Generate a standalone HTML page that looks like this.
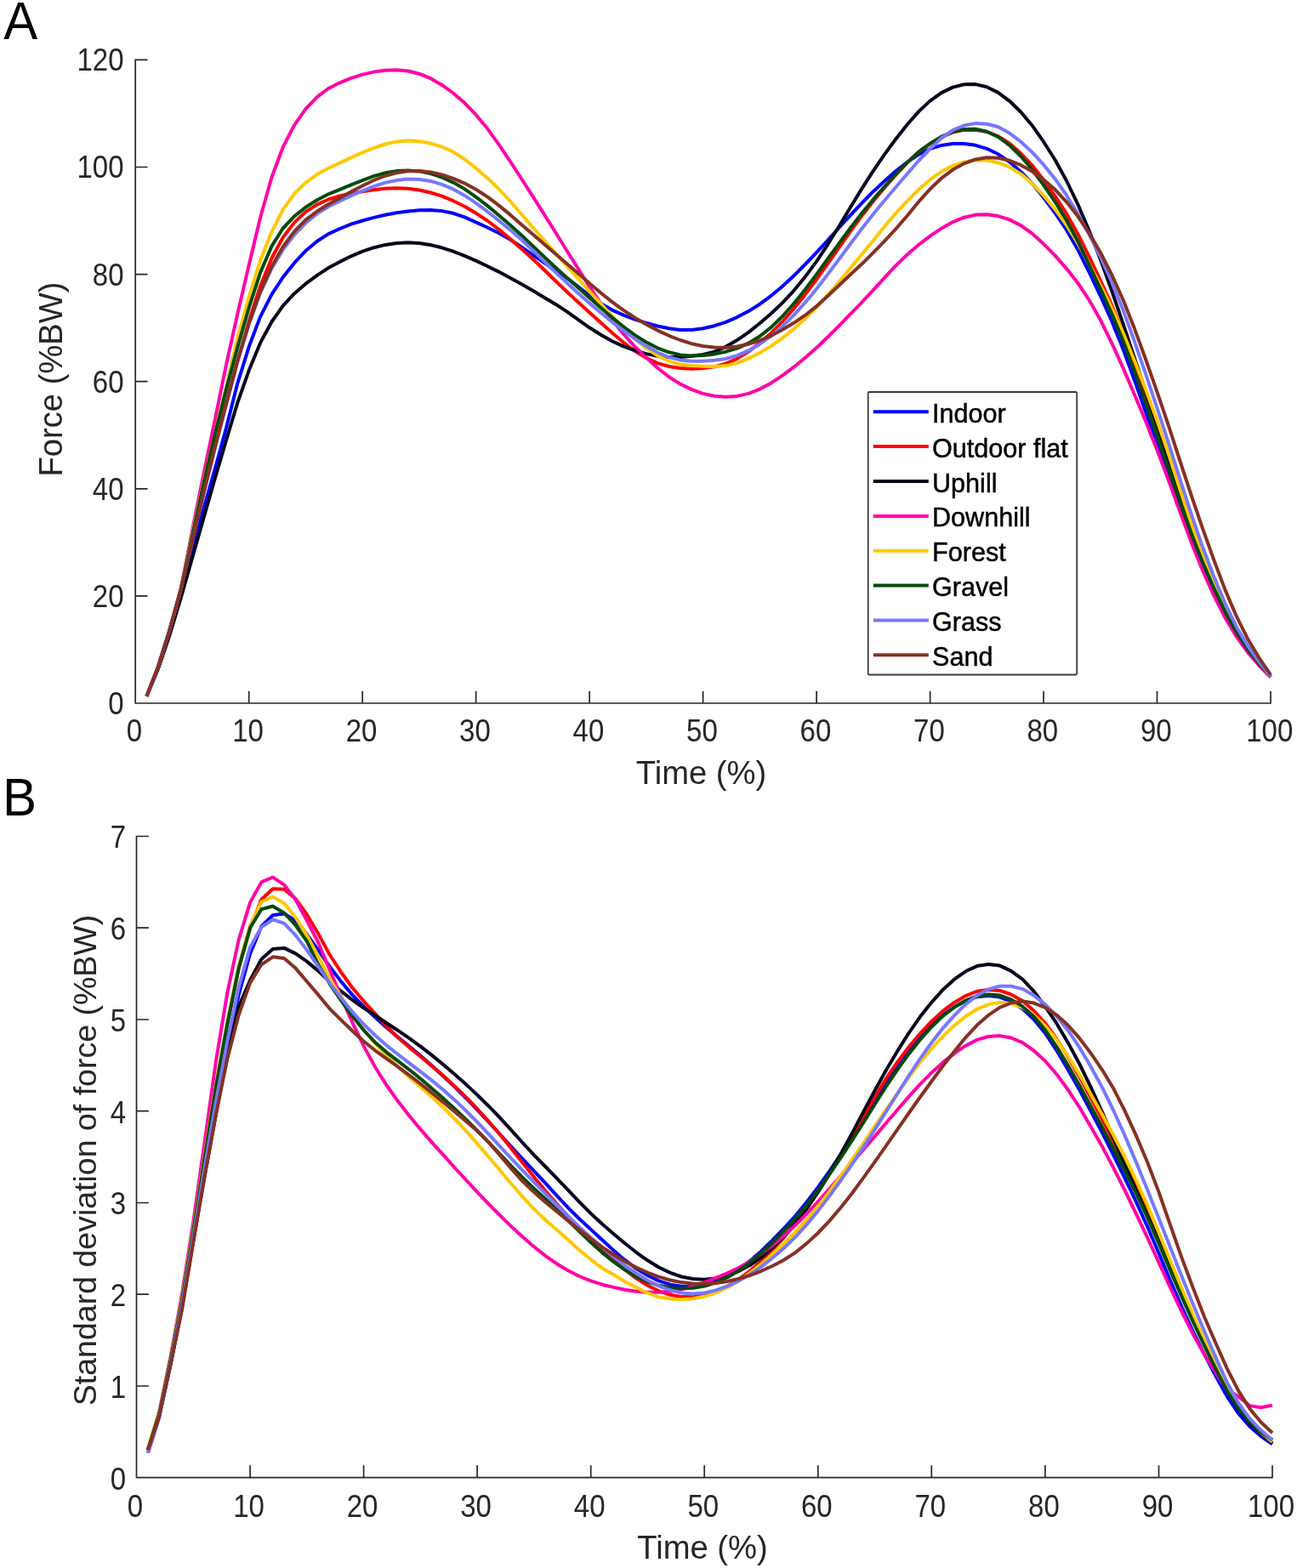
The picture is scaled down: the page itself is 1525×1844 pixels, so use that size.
<!DOCTYPE html>
<html lang="en">
<head>
<meta charset="utf-8">
<title>Force and standard deviation of force over time</title>
<style>
html,body{margin:0;padding:0;background:#fff;}
body{width:1525px;height:1844px;overflow:hidden;}
svg{display:block;font-family:"Liberation Sans",sans-serif;}
</style>
</head>
<body>
<svg width="1525" height="1844" viewBox="0 0 1525 1844">
<rect width="1525" height="1844" fill="#fff"/>
<g id="panel-a">
<g fill="none" stroke-width="4.0" stroke-linejoin="round" stroke-linecap="butt">
<path stroke="#0000ff" d="M172.5,818.8 L185.9,786.0 L199.2,745.7 L212.6,699.6 L225.9,647.3 L239.3,598.5 L252.6,552.1 L266.0,503.3 L279.3,450.8 L292.7,407.8 L306.0,372.6 L319.4,346.3 L332.7,326.0 L346.1,309.2 L359.4,295.0 L372.8,283.7 L386.1,275.1 L399.5,269.0 L412.8,263.7 L426.2,259.5 L439.5,255.9 L452.9,252.7 L466.2,250.3 L479.6,248.4 L492.9,247.3 L506.2,247.0 L519.6,248.1 L532.9,250.8 L546.3,255.4 L559.6,261.3 L573.0,267.5 L586.3,274.0 L599.7,281.6 L613.0,290.3 L626.4,299.6 L639.7,308.8 L653.1,317.5 L666.4,326.8 L679.8,337.1 L693.1,347.6 L706.5,357.0 L719.8,364.6 L733.2,370.6 L746.5,375.6 L759.9,379.8 L773.2,383.5 L786.6,386.3 L799.9,387.9 L813.3,387.9 L826.6,386.2 L839.9,383.2 L853.3,378.8 L866.6,373.1 L880.0,366.1 L893.3,357.7 L906.7,347.8 L920.0,336.7 L933.4,324.3 L946.7,311.0 L960.1,296.9 L973.4,282.3 L986.8,267.5 L1000.1,252.9 L1013.5,238.7 L1026.8,225.2 L1040.2,212.7 L1053.5,201.1 L1066.9,190.7 L1080.2,181.7 L1093.6,175.1 L1106.9,170.9 L1120.3,168.9 L1133.6,168.9 L1147.0,170.8 L1160.3,174.8 L1173.6,181.3 L1187.0,190.4 L1200.3,201.9 L1213.7,215.8 L1227.0,232.3 L1240.4,250.2 L1253.7,270.0 L1267.1,293.2 L1280.4,319.6 L1293.8,347.8 L1307.1,377.5 L1320.5,410.6 L1333.8,446.9 L1347.2,484.8 L1360.5,522.7 L1373.9,560.9 L1387.2,599.2 L1400.6,635.4 L1413.9,668.2 L1427.3,697.9 L1440.6,724.4 L1454.0,747.1 L1467.3,765.9 L1480.7,781.6 L1494.0,795.5"/>
<path stroke="#ff0000" d="M172.5,818.8 L185.9,784.1 L199.2,741.9 L212.6,693.3 L225.9,636.6 L239.3,579.7 L252.6,525.0 L266.0,473.3 L279.3,424.5 L292.7,377.9 L306.0,336.7 L319.4,303.7 L332.7,279.3 L346.1,261.6 L359.4,249.1 L372.8,240.6 L386.1,234.5 L399.5,230.5 L412.8,227.4 L426.2,225.2 L439.5,223.3 L452.9,221.8 L466.2,221.3 L479.6,221.8 L492.9,223.5 L506.2,226.5 L519.6,230.7 L532.9,236.2 L546.3,242.8 L559.6,250.7 L573.0,259.5 L586.3,269.6 L599.7,280.7 L613.0,292.4 L626.4,304.6 L639.7,317.2 L653.1,330.2 L666.4,343.0 L679.8,355.4 L693.1,367.5 L706.5,379.6 L719.8,391.5 L733.2,402.8 L746.5,412.9 L759.9,421.0 L773.2,427.1 L786.6,431.0 L799.9,433.0 L813.3,433.7 L826.6,433.1 L839.9,431.3 L853.3,427.7 L866.6,421.8 L880.0,413.6 L893.3,403.4 L906.7,391.7 L920.0,378.2 L933.4,363.0 L946.7,346.4 L960.1,328.5 L973.4,309.9 L986.8,290.8 L1000.1,271.8 L1013.5,253.6 L1026.8,236.5 L1040.2,220.5 L1053.5,205.4 L1066.9,191.1 L1080.2,178.7 L1093.6,169.0 L1106.9,161.2 L1120.3,155.6 L1133.6,152.9 L1147.0,152.7 L1160.3,155.0 L1173.6,160.3 L1187.0,168.8 L1200.3,180.3 L1213.7,194.6 L1227.0,211.6 L1240.4,230.3 L1253.7,250.9 L1267.1,274.7 L1280.4,301.5 L1293.8,329.5 L1307.1,358.8 L1320.5,391.4 L1333.8,427.2 L1347.2,464.5 L1360.5,502.3 L1373.9,541.3 L1387.2,581.5 L1400.6,620.3 L1413.9,655.8 L1427.3,688.1 L1440.6,717.0 L1454.0,741.8 L1467.3,762.5 L1480.7,779.9 L1494.0,795.5"/>
<path stroke="#05051e" d="M172.5,818.8 L185.9,786.6 L199.2,747.6 L212.6,703.4 L225.9,656.8 L239.3,609.8 L252.6,563.3 L266.0,517.7 L279.3,473.7 L292.7,435.6 L306.0,403.4 L319.4,378.5 L332.7,359.7 L346.1,345.2 L359.4,333.7 L372.8,323.8 L386.1,315.1 L399.5,307.9 L412.8,301.3 L426.2,295.7 L439.5,291.2 L452.9,287.9 L466.2,285.9 L479.6,285.3 L492.9,286.0 L506.2,288.0 L519.6,291.3 L532.9,295.7 L546.3,300.8 L559.6,306.7 L573.0,313.0 L586.3,319.6 L599.7,326.7 L613.0,334.1 L626.4,341.8 L639.7,349.7 L653.1,357.7 L666.4,366.4 L679.8,375.8 L693.1,385.3 L706.5,393.8 L719.8,401.2 L733.2,407.4 L746.5,412.1 L759.9,416.1 L773.2,418.9 L786.6,419.9 L799.9,420.0 L813.3,418.8 L826.6,417.0 L839.9,413.7 L853.3,407.8 L866.6,400.1 L880.0,390.9 L893.3,380.3 L906.7,368.7 L920.0,356.1 L933.4,341.8 L946.7,325.6 L960.1,307.4 L973.4,287.3 L986.8,265.7 L1000.1,243.4 L1013.5,221.6 L1026.8,200.8 L1040.2,181.4 L1053.5,163.2 L1066.9,146.3 L1080.2,131.1 L1093.6,118.6 L1106.9,109.1 L1120.3,102.6 L1133.6,99.3 L1147.0,99.1 L1160.3,102.3 L1173.6,108.9 L1187.0,118.8 L1200.3,131.7 L1213.7,147.7 L1227.0,166.7 L1240.4,187.8 L1253.7,212.0 L1267.1,239.8 L1280.4,270.9 L1293.8,304.8 L1307.1,341.6 L1320.5,380.7 L1333.8,420.7 L1347.2,460.6 L1360.5,500.1 L1373.9,539.7 L1387.2,579.6 L1400.6,618.0 L1413.9,653.2 L1427.3,685.4 L1440.6,714.3 L1454.0,739.4 L1467.3,760.7 L1480.7,778.9 L1494.0,795.5"/>
<path stroke="#ff00aa" d="M172.5,818.8 L185.9,784.1 L199.2,741.9 L212.6,693.3 L225.9,624.6 L239.3,558.2 L252.6,494.4 L266.0,428.8 L279.3,369.1 L292.7,311.8 L306.0,256.3 L319.4,208.8 L332.7,173.0 L346.1,147.2 L359.4,128.2 L372.8,114.2 L386.1,104.0 L399.5,97.3 L412.8,91.8 L426.2,87.6 L439.5,84.6 L452.9,82.8 L466.2,82.3 L479.6,83.5 L492.9,86.7 L506.2,92.2 L519.6,99.9 L532.9,109.5 L546.3,121.1 L559.6,134.9 L573.0,151.1 L586.3,169.6 L599.7,189.5 L613.0,210.0 L626.4,230.8 L639.7,251.9 L653.1,273.2 L666.4,294.7 L679.8,316.0 L693.1,337.0 L706.5,357.2 L719.8,376.2 L733.2,393.0 L746.5,407.6 L759.9,420.6 L773.2,432.7 L786.6,443.2 L799.9,451.6 L813.3,458.1 L826.6,462.9 L839.9,465.7 L853.3,466.8 L866.6,465.9 L880.0,462.9 L893.3,457.6 L906.7,450.4 L920.0,441.6 L933.4,431.7 L946.7,420.8 L960.1,409.0 L973.4,396.3 L986.8,382.9 L1000.1,369.2 L1013.5,355.3 L1026.8,341.1 L1040.2,326.4 L1053.5,312.1 L1066.9,299.3 L1080.2,287.8 L1093.6,277.7 L1106.9,268.7 L1120.3,261.1 L1133.6,255.7 L1147.0,252.6 L1160.3,252.3 L1173.6,254.1 L1187.0,258.4 L1200.3,265.1 L1213.7,274.7 L1227.0,286.8 L1240.4,300.4 L1253.7,315.6 L1267.1,332.6 L1280.4,352.5 L1293.8,376.1 L1307.1,403.1 L1320.5,432.6 L1333.8,463.7 L1347.2,495.8 L1360.5,529.2 L1373.9,564.5 L1387.2,601.4 L1400.6,637.4 L1413.9,670.5 L1427.3,700.4 L1440.6,726.7 L1454.0,749.0 L1467.3,767.4 L1480.7,782.9 L1494.0,796.7"/>
<path stroke="#ffc800" d="M172.5,818.8 L185.9,784.1 L199.2,741.9 L212.6,693.3 L225.9,628.4 L239.3,567.3 L252.6,511.2 L266.0,454.7 L279.3,397.6 L292.7,349.1 L306.0,306.7 L319.4,272.8 L332.7,246.6 L346.1,227.8 L359.4,214.8 L372.8,205.1 L386.1,197.7 L399.5,191.6 L412.8,185.4 L426.2,179.4 L439.5,174.0 L452.9,169.5 L466.2,166.6 L479.6,165.4 L492.9,166.2 L506.2,168.5 L519.6,172.6 L532.9,178.6 L546.3,187.2 L559.6,197.8 L573.0,209.4 L586.3,222.0 L599.7,236.3 L613.0,251.8 L626.4,267.4 L639.7,282.6 L653.1,297.6 L666.4,312.7 L679.8,327.7 L693.1,342.7 L706.5,357.4 L719.8,371.9 L733.2,385.7 L746.5,398.4 L759.9,409.4 L773.2,418.4 L786.6,424.8 L799.9,428.6 L813.3,430.1 L826.6,430.7 L839.9,431.1 L853.3,430.1 L866.6,426.9 L880.0,421.7 L893.3,415.0 L906.7,406.9 L920.0,397.5 L933.4,386.7 L946.7,374.8 L960.1,361.5 L973.4,346.7 L986.8,331.0 L1000.1,315.0 L1013.5,299.0 L1026.8,282.7 L1040.2,266.2 L1053.5,250.5 L1066.9,236.1 L1080.2,222.8 L1093.6,211.2 L1106.9,201.8 L1120.3,194.9 L1133.6,190.5 L1147.0,188.3 L1160.3,188.6 L1173.6,191.3 L1187.0,196.5 L1200.3,204.6 L1213.7,215.8 L1227.0,229.9 L1240.4,246.0 L1253.7,264.2 L1267.1,285.6 L1280.4,310.0 L1293.8,335.5 L1307.1,361.9 L1320.5,391.3 L1333.8,423.8 L1347.2,458.4 L1360.5,494.7 L1373.9,533.9 L1387.2,575.2 L1400.6,615.5 L1413.9,652.7 L1427.3,686.6 L1440.6,716.6 L1454.0,742.1 L1467.3,763.0 L1480.7,780.3 L1494.0,795.5"/>
<path stroke="#004b0a" d="M172.5,818.8 L185.9,784.1 L199.2,741.9 L212.6,693.3 L225.9,631.5 L239.3,569.5 L252.6,511.5 L266.0,457.8 L279.3,408.2 L292.7,361.9 L306.0,320.8 L319.4,289.6 L332.7,268.5 L346.1,254.4 L359.4,243.8 L372.8,235.3 L386.1,228.3 L399.5,222.9 L412.8,217.4 L426.2,212.2 L439.5,207.2 L452.9,203.3 L466.2,201.1 L479.6,200.4 L492.9,201.4 L506.2,204.1 L519.6,208.5 L532.9,214.6 L546.3,222.3 L559.6,231.6 L573.0,241.9 L586.3,253.0 L599.7,264.4 L613.0,276.5 L626.4,289.2 L639.7,302.0 L653.1,314.4 L666.4,326.4 L679.8,338.3 L693.1,350.3 L706.5,362.1 L719.8,373.6 L733.2,384.4 L746.5,394.1 L759.9,402.5 L773.2,409.3 L786.6,414.3 L799.9,417.4 L813.3,418.5 L826.6,418.0 L839.9,416.4 L853.3,413.7 L866.6,409.6 L880.0,403.7 L893.3,395.5 L906.7,384.9 L920.0,372.0 L933.4,357.0 L946.7,340.4 L960.1,322.6 L973.4,304.3 L986.8,285.9 L1000.1,267.8 L1013.5,250.6 L1026.8,234.4 L1040.2,219.2 L1053.5,204.7 L1066.9,190.9 L1080.2,178.7 L1093.6,168.9 L1106.9,160.8 L1120.3,154.8 L1133.6,151.9 L1147.0,151.8 L1160.3,154.7 L1173.6,160.9 L1187.0,170.8 L1200.3,183.8 L1213.7,199.5 L1227.0,217.6 L1240.4,237.1 L1253.7,258.5 L1267.1,283.2 L1280.4,311.0 L1293.8,339.4 L1307.1,368.6 L1320.5,400.8 L1333.8,436.6 L1347.2,474.3 L1360.5,512.4 L1373.9,551.1 L1387.2,589.9 L1400.6,626.9 L1413.9,660.7 L1427.3,691.7 L1440.6,719.7 L1454.0,743.9 L1467.3,764.0 L1480.7,780.8 L1494.0,795.5"/>
<path stroke="#7777ff" d="M172.5,818.8 L185.9,784.1 L199.2,741.9 L212.6,693.3 L225.9,636.6 L239.3,581.0 L252.6,527.9 L266.0,476.2 L279.3,425.5 L292.7,381.2 L306.0,344.6 L319.4,315.8 L332.7,293.6 L346.1,276.2 L359.4,262.3 L372.8,251.4 L386.1,243.0 L399.5,236.4 L412.8,230.1 L426.2,224.3 L439.5,219.1 L452.9,214.9 L466.2,212.1 L479.6,210.6 L492.9,210.9 L506.2,212.9 L519.6,216.8 L532.9,222.5 L546.3,229.9 L559.6,238.8 L573.0,248.7 L586.3,259.2 L599.7,270.1 L613.0,281.7 L626.4,294.2 L639.7,307.2 L653.1,320.1 L666.4,332.6 L679.8,344.7 L693.1,356.4 L706.5,367.8 L719.8,378.7 L733.2,388.9 L746.5,398.5 L759.9,407.1 L773.2,414.5 L786.6,420.1 L799.9,423.4 L813.3,424.7 L826.6,424.7 L839.9,423.8 L853.3,421.9 L866.6,418.2 L880.0,412.4 L893.3,404.7 L906.7,395.2 L920.0,383.9 L933.4,370.7 L946.7,355.9 L960.1,339.7 L973.4,322.4 L986.8,304.5 L1000.1,286.5 L1013.5,268.8 L1026.8,251.8 L1040.2,235.5 L1053.5,219.7 L1066.9,204.2 L1080.2,189.0 L1093.6,175.0 L1106.9,162.5 L1120.3,153.0 L1133.6,147.5 L1147.0,145.1 L1160.3,145.7 L1173.6,149.3 L1187.0,156.6 L1200.3,166.7 L1213.7,179.1 L1227.0,193.7 L1240.4,210.2 L1253.7,229.2 L1267.1,251.1 L1280.4,275.3 L1293.8,301.8 L1307.1,331.4 L1320.5,364.5 L1333.8,401.1 L1347.2,440.1 L1360.5,479.8 L1373.9,520.8 L1387.2,563.0 L1400.6,604.3 L1413.9,642.8 L1427.3,678.3 L1440.6,710.1 L1454.0,737.4 L1467.3,760.0 L1480.7,778.8 L1494.0,795.5"/>
<path stroke="#863123" d="M172.5,818.8 L185.9,784.1 L199.2,741.9 L212.6,693.3 L225.9,636.6 L239.3,580.4 L252.6,526.5 L266.0,474.4 L279.3,424.3 L292.7,380.3 L306.0,343.2 L319.4,313.5 L332.7,290.2 L346.1,272.2 L359.4,258.6 L372.8,248.5 L386.1,240.2 L399.5,232.9 L412.8,225.6 L426.2,218.6 L439.5,212.0 L452.9,206.7 L466.2,203.2 L479.6,201.3 L492.9,201.0 L506.2,202.4 L519.6,205.4 L532.9,209.8 L546.3,215.6 L559.6,222.8 L573.0,231.4 L586.3,241.4 L599.7,252.4 L613.0,263.9 L626.4,275.5 L639.7,287.0 L653.1,298.5 L666.4,310.0 L679.8,321.6 L693.1,333.2 L706.5,344.5 L719.8,355.1 L733.2,364.8 L746.5,373.6 L759.9,381.5 L773.2,388.6 L786.6,394.8 L799.9,400.0 L813.3,404.2 L826.6,407.0 L839.9,408.6 L853.3,408.7 L866.6,407.5 L880.0,404.7 L893.3,400.5 L906.7,394.7 L920.0,387.7 L933.4,379.8 L946.7,370.7 L960.1,360.1 L973.4,348.0 L986.8,335.2 L1000.1,322.8 L1013.5,310.3 L1026.8,297.2 L1040.2,283.4 L1053.5,269.0 L1066.9,253.5 L1080.2,237.2 L1093.6,222.3 L1106.9,209.7 L1120.3,199.6 L1133.6,192.3 L1147.0,187.4 L1160.3,185.3 L1173.6,185.7 L1187.0,188.8 L1200.3,194.2 L1213.7,201.6 L1227.0,211.2 L1240.4,222.8 L1253.7,237.1 L1267.1,254.1 L1280.4,273.8 L1293.8,296.7 L1307.1,322.8 L1320.5,352.5 L1333.8,386.1 L1347.2,422.8 L1360.5,460.8 L1373.9,500.3 L1387.2,541.4 L1400.6,582.1 L1413.9,621.1 L1427.3,658.7 L1440.6,693.9 L1454.0,725.2 L1467.3,751.8 L1480.7,774.1 L1494.0,793.6"/>
</g>
<path d="M159.2,70.4 L159.2,827.0 L1494.0,827.0 M159.2,827.0 v-13.5 M292.7,827.0 v-13.5 M426.2,827.0 v-13.5 M559.6,827.0 v-13.5 M693.1,827.0 v-13.5 M826.6,827.0 v-13.5 M960.1,827.0 v-13.5 M1093.6,827.0 v-13.5 M1227.0,827.0 v-13.5 M1360.5,827.0 v-13.5 M1494.0,827.0 v-13.5 M159.2,827.0 h13.5 M159.2,700.9 h13.5 M159.2,574.8 h13.5 M159.2,448.7 h13.5 M159.2,322.6 h13.5 M159.2,196.5 h13.5 M159.2,70.4 h13.5" fill="none" stroke="#262626" stroke-width="1.7" stroke-linecap="square"/>
<g font-size="33" fill="#262626">
<text transform="translate(158.0,871.8) scale(1,1.120)" text-anchor="middle">0</text>
<text transform="translate(291.5,871.8) scale(1,1.120)" text-anchor="middle">10</text>
<text transform="translate(425.0,871.8) scale(1,1.120)" text-anchor="middle">20</text>
<text transform="translate(558.4,871.8) scale(1,1.120)" text-anchor="middle">30</text>
<text transform="translate(691.9,871.8) scale(1,1.120)" text-anchor="middle">40</text>
<text transform="translate(825.4,871.8) scale(1,1.120)" text-anchor="middle">50</text>
<text transform="translate(958.9,871.8) scale(1,1.120)" text-anchor="middle">60</text>
<text transform="translate(1092.4,871.8) scale(1,1.120)" text-anchor="middle">70</text>
<text transform="translate(1225.8,871.8) scale(1,1.120)" text-anchor="middle">80</text>
<text transform="translate(1359.3,871.8) scale(1,1.120)" text-anchor="middle">90</text>
<text transform="translate(1492.8,871.8) scale(1,1.120)" text-anchor="middle">100</text>
<text transform="translate(145.5,839.9) scale(1,1.120)" text-anchor="end">0</text>
<text transform="translate(145.5,713.8) scale(1,1.120)" text-anchor="end">20</text>
<text transform="translate(145.5,587.7) scale(1,1.120)" text-anchor="end">40</text>
<text transform="translate(145.5,461.6) scale(1,1.120)" text-anchor="end">60</text>
<text transform="translate(145.5,335.5) scale(1,1.120)" text-anchor="end">80</text>
<text transform="translate(145.5,209.4) scale(1,1.120)" text-anchor="end">100</text>
<text transform="translate(145.5,83.3) scale(1,1.120)" text-anchor="end">120</text>
</g>
<text transform="translate(824.5,922.0)" text-anchor="middle" font-size="38.2" fill="#262626">Time (%)</text>
<text transform="translate(73.0,446.0) rotate(-90)" text-anchor="middle" font-size="38.2" fill="#262626">Force (%BW)</text>
<text transform="translate(4.3,45.9) scale(1,1.050)" font-size="60" fill="#000">A</text>
<rect x="1020.7" y="461.0" width="245.5" height="332.5" fill="#fff" stroke="#3a3a3a" stroke-width="1.8" rx="1.5"/>
<g font-size="30.6" fill="#000">
<line x1="1026.8" x2="1091.8" y1="484.3" y2="484.3" stroke="#0000ff" stroke-width="4.0"/>
<text transform="translate(1096.0,496.8)" fill="#000" stroke="#000" stroke-width="0.45">Indoor</text>
<line x1="1026.8" x2="1091.8" y1="525.1" y2="525.1" stroke="#ff0000" stroke-width="4.0"/>
<text transform="translate(1096.0,537.6)" fill="#000" stroke="#000" stroke-width="0.45">Outdoor flat</text>
<line x1="1026.8" x2="1091.8" y1="566.0" y2="566.0" stroke="#05051e" stroke-width="4.0"/>
<text transform="translate(1096.0,578.5)" fill="#000" stroke="#000" stroke-width="0.45">Uphill</text>
<line x1="1026.8" x2="1091.8" y1="606.9" y2="606.9" stroke="#ff00aa" stroke-width="4.0"/>
<text transform="translate(1096.0,619.4)" fill="#000" stroke="#000" stroke-width="0.45">Downhill</text>
<line x1="1026.8" x2="1091.8" y1="647.7" y2="647.7" stroke="#ffc800" stroke-width="4.0"/>
<text transform="translate(1096.0,660.2)" fill="#000" stroke="#000" stroke-width="0.45">Forest</text>
<line x1="1026.8" x2="1091.8" y1="688.5" y2="688.5" stroke="#004b0a" stroke-width="4.0"/>
<text transform="translate(1096.0,701.0)" fill="#000" stroke="#000" stroke-width="0.45">Gravel</text>
<line x1="1026.8" x2="1091.8" y1="729.4" y2="729.4" stroke="#7777ff" stroke-width="4.0"/>
<text transform="translate(1096.0,741.9)" fill="#000" stroke="#000" stroke-width="0.45">Grass</text>
<line x1="1026.8" x2="1091.8" y1="770.2" y2="770.2" stroke="#863123" stroke-width="4.0"/>
<text transform="translate(1096.0,782.8)" fill="#000" stroke="#000" stroke-width="0.45">Sand</text>
</g>
</g>
<g id="panel-b">
<g fill="none" stroke-width="4.0" stroke-linejoin="round" stroke-linecap="butt">
<path stroke="#0000ff" d="M173.9,1708.6 L187.2,1666.6 L200.6,1604.1 L213.9,1537.3 L227.3,1458.6 L240.6,1377.8 L254.0,1301.3 L267.3,1231.3 L280.7,1169.9 L294.1,1121.4 L307.4,1089.4 L320.8,1076.3 L334.1,1074.5 L347.5,1082.6 L360.8,1098.8 L374.2,1117.4 L387.5,1136.5 L400.9,1154.1 L414.2,1169.9 L427.6,1183.6 L441.0,1196.2 L454.3,1208.3 L467.7,1219.6 L481.0,1230.4 L494.4,1241.5 L507.7,1253.2 L521.1,1265.5 L534.4,1278.1 L547.8,1291.2 L561.1,1305.0 L574.5,1319.3 L587.9,1334.0 L601.2,1348.7 L614.6,1363.1 L627.9,1377.1 L641.3,1391.3 L654.6,1406.0 L668.0,1420.3 L681.3,1433.5 L694.7,1445.9 L708.1,1458.2 L721.4,1470.4 L734.8,1481.9 L748.1,1491.8 L761.5,1500.0 L774.8,1506.4 L788.2,1510.7 L801.5,1512.8 L814.9,1512.7 L828.2,1510.8 L841.6,1506.8 L855.0,1501.0 L868.3,1492.8 L881.7,1482.9 L895.0,1471.4 L908.4,1458.4 L921.7,1444.7 L935.1,1430.0 L948.4,1413.7 L961.8,1396.2 L975.2,1377.4 L988.5,1357.7 L1001.9,1337.2 L1015.2,1316.1 L1028.6,1294.8 L1041.9,1273.9 L1055.3,1254.4 L1068.6,1236.4 L1082.0,1220.2 L1095.3,1206.1 L1108.7,1193.9 L1122.1,1184.3 L1135.4,1176.9 L1148.8,1172.3 L1162.1,1171.0 L1175.5,1172.6 L1188.8,1177.8 L1202.2,1186.2 L1215.5,1198.7 L1228.9,1215.0 L1242.3,1235.3 L1255.6,1257.7 L1269.0,1281.3 L1282.3,1306.3 L1295.7,1331.6 L1309.0,1358.0 L1322.4,1385.1 L1335.7,1413.0 L1349.1,1442.5 L1362.5,1473.7 L1375.8,1505.4 L1389.2,1536.2 L1402.5,1565.3 L1415.9,1592.4 L1429.2,1617.8 L1442.6,1642.1 L1455.9,1662.0 L1469.3,1677.5 L1482.6,1689.0 L1496.0,1698.3"/>
<path stroke="#ff0000" d="M173.9,1705.4 L187.2,1662.3 L200.6,1598.7 L213.9,1529.8 L227.3,1447.9 L240.6,1361.7 L254.0,1277.6 L267.3,1204.4 L280.7,1138.6 L294.1,1091.2 L307.4,1057.8 L320.8,1045.2 L334.1,1045.7 L347.5,1057.0 L360.8,1075.4 L374.2,1098.1 L387.5,1122.5 L400.9,1143.2 L414.2,1161.5 L427.6,1177.3 L441.0,1192.2 L454.3,1206.6 L467.7,1219.9 L481.0,1231.6 L494.4,1242.5 L507.7,1253.6 L521.1,1265.0 L534.4,1277.2 L547.8,1290.1 L561.1,1304.0 L574.5,1318.7 L587.9,1334.3 L601.2,1350.8 L614.6,1367.6 L627.9,1384.3 L641.3,1400.5 L654.6,1415.8 L668.0,1430.3 L681.3,1444.0 L694.7,1457.1 L708.1,1469.7 L721.4,1481.7 L734.8,1493.2 L748.1,1503.4 L761.5,1511.8 L774.8,1518.3 L788.2,1522.8 L801.5,1525.1 L814.9,1525.3 L828.2,1523.4 L841.6,1519.1 L855.0,1512.9 L868.3,1504.8 L881.7,1494.7 L895.0,1483.1 L908.4,1469.7 L921.7,1455.3 L935.1,1439.1 L948.4,1421.3 L961.8,1401.9 L975.2,1381.0 L988.5,1359.1 L1001.9,1336.1 L1015.2,1312.8 L1028.6,1289.9 L1041.9,1268.5 L1055.3,1249.0 L1068.6,1231.2 L1082.0,1215.3 L1095.3,1201.2 L1108.7,1188.9 L1122.1,1178.9 L1135.4,1171.1 L1148.8,1165.8 L1162.1,1163.9 L1175.5,1164.9 L1188.8,1169.5 L1202.2,1177.0 L1215.5,1188.5 L1228.9,1203.3 L1242.3,1221.7 L1255.6,1242.7 L1269.0,1265.9 L1282.3,1290.9 L1295.7,1316.0 L1309.0,1342.0 L1322.4,1368.1 L1335.7,1395.1 L1349.1,1424.1 L1362.5,1455.4 L1375.8,1487.6 L1389.2,1519.2 L1402.5,1549.7 L1415.9,1578.9 L1429.2,1606.9 L1442.6,1634.2 L1455.9,1655.9 L1469.3,1673.2 L1482.6,1686.3 L1496.0,1696.8"/>
<path stroke="#05051e" d="M173.9,1705.4 L187.2,1664.4 L200.6,1604.1 L213.9,1538.4 L227.3,1458.6 L240.6,1383.2 L254.0,1310.0 L267.3,1239.9 L280.7,1183.9 L294.1,1152.7 L307.4,1127.9 L320.8,1116.0 L334.1,1114.9 L347.5,1121.4 L360.8,1130.6 L374.2,1141.9 L387.5,1154.3 L400.9,1165.5 L414.2,1175.9 L427.6,1185.3 L441.0,1194.2 L454.3,1203.0 L467.7,1211.7 L481.0,1220.9 L494.4,1230.6 L507.7,1240.9 L521.1,1251.9 L534.4,1263.2 L547.8,1275.1 L561.1,1287.6 L574.5,1300.7 L587.9,1314.6 L601.2,1329.1 L614.6,1344.0 L627.9,1358.3 L641.3,1372.0 L654.6,1385.6 L668.0,1399.6 L681.3,1413.6 L694.7,1427.1 L708.1,1439.5 L721.4,1451.0 L734.8,1462.3 L748.1,1472.8 L761.5,1482.3 L774.8,1490.5 L788.2,1496.9 L801.5,1501.5 L814.9,1504.0 L828.2,1504.8 L841.6,1503.4 L855.0,1500.2 L868.3,1495.1 L881.7,1488.0 L895.0,1478.7 L908.4,1467.3 L921.7,1454.3 L935.1,1439.0 L948.4,1421.5 L961.8,1401.9 L975.2,1380.3 L988.5,1357.2 L1001.9,1332.6 L1015.2,1307.4 L1028.6,1282.4 L1041.9,1258.5 L1055.3,1235.9 L1068.6,1214.8 L1082.0,1195.6 L1095.3,1178.8 L1108.7,1163.9 L1122.1,1151.7 L1135.4,1142.3 L1148.8,1136.1 L1162.1,1134.0 L1175.5,1135.6 L1188.8,1141.9 L1202.2,1151.6 L1215.5,1165.7 L1228.9,1183.7 L1242.3,1203.4 L1255.6,1225.9 L1269.0,1250.7 L1282.3,1277.9 L1295.7,1307.3 L1309.0,1338.1 L1322.4,1369.1 L1335.7,1399.5 L1349.1,1429.1 L1362.5,1458.4 L1375.8,1488.3 L1389.2,1518.9 L1402.5,1549.5 L1415.9,1579.3 L1429.2,1607.8 L1442.6,1635.2 L1455.9,1656.8 L1469.3,1673.5 L1482.6,1686.3 L1496.0,1696.8"/>
<path stroke="#ff00aa" d="M173.9,1705.4 L187.2,1660.1 L200.6,1595.5 L213.9,1522.2 L227.3,1437.1 L240.6,1343.4 L254.0,1247.5 L267.3,1167.7 L280.7,1105.2 L294.1,1061.4 L307.4,1037.4 L320.8,1031.7 L334.1,1040.7 L347.5,1057.8 L360.8,1082.6 L374.2,1108.5 L387.5,1140.3 L400.9,1171.6 L414.2,1202.1 L427.6,1230.1 L441.0,1254.8 L454.3,1276.0 L467.7,1294.8 L481.0,1312.0 L494.4,1328.1 L507.7,1343.4 L521.1,1358.2 L534.4,1373.0 L547.8,1387.5 L561.1,1401.9 L574.5,1415.9 L587.9,1429.3 L601.2,1442.4 L614.6,1454.7 L627.9,1466.3 L641.3,1476.9 L654.6,1486.2 L668.0,1494.2 L681.3,1501.0 L694.7,1506.4 L708.1,1510.7 L721.4,1513.9 L734.8,1516.7 L748.1,1518.7 L761.5,1519.7 L774.8,1519.8 L788.2,1518.7 L801.5,1516.4 L814.9,1512.7 L828.2,1508.2 L841.6,1502.9 L855.0,1497.4 L868.3,1491.0 L881.7,1483.4 L895.0,1474.5 L908.4,1464.4 L921.7,1453.3 L935.1,1441.0 L948.4,1427.5 L961.8,1413.1 L975.2,1398.1 L988.5,1382.8 L1001.9,1367.4 L1015.2,1352.0 L1028.6,1336.4 L1041.9,1320.7 L1055.3,1305.0 L1068.6,1289.6 L1082.0,1274.9 L1095.3,1261.6 L1108.7,1249.4 L1122.1,1238.9 L1135.4,1229.7 L1148.8,1222.9 L1162.1,1219.0 L1175.5,1218.1 L1188.8,1220.5 L1202.2,1226.1 L1215.5,1235.5 L1228.9,1247.8 L1242.3,1263.3 L1255.6,1281.3 L1269.0,1301.8 L1282.3,1324.4 L1295.7,1347.9 L1309.0,1373.1 L1322.4,1399.5 L1335.7,1427.1 L1349.1,1455.5 L1362.5,1484.6 L1375.8,1513.7 L1389.2,1542.0 L1402.5,1568.4 L1415.9,1592.4 L1429.2,1614.0 L1442.6,1634.3 L1455.9,1642.3 L1469.3,1653.1 L1482.6,1655.3 L1496.0,1652.6"/>
<path stroke="#ffc800" d="M173.9,1703.2 L187.2,1660.1 L200.6,1596.6 L213.9,1526.5 L227.3,1444.6 L240.6,1358.4 L254.0,1274.4 L267.3,1201.1 L280.7,1135.4 L294.1,1088.0 L307.4,1060.5 L320.8,1054.7 L334.1,1062.2 L347.5,1078.9 L360.8,1099.9 L374.2,1124.6 L387.5,1150.6 L400.9,1172.2 L414.2,1192.6 L427.6,1211.1 L441.0,1227.0 L454.3,1241.2 L467.7,1254.2 L481.0,1266.5 L494.4,1278.3 L507.7,1290.0 L521.1,1302.3 L534.4,1315.6 L547.8,1329.8 L561.1,1344.9 L574.5,1360.5 L587.9,1376.3 L601.2,1392.3 L614.6,1407.6 L627.9,1421.9 L641.3,1434.8 L654.6,1446.3 L668.0,1458.1 L681.3,1470.2 L694.7,1481.3 L708.1,1491.4 L721.4,1499.0 L734.8,1507.2 L748.1,1514.0 L761.5,1520.6 L774.8,1525.3 L788.2,1527.4 L801.5,1528.2 L814.9,1527.3 L828.2,1524.8 L841.6,1520.3 L855.0,1514.2 L868.3,1506.4 L881.7,1497.1 L895.0,1486.7 L908.4,1474.8 L921.7,1462.4 L935.1,1448.9 L948.4,1434.4 L961.8,1418.6 L975.2,1401.3 L988.5,1383.0 L1001.9,1363.9 L1015.2,1344.4 L1028.6,1324.7 L1041.9,1305.1 L1055.3,1285.6 L1068.6,1266.9 L1082.0,1249.2 L1095.3,1233.2 L1108.7,1218.7 L1122.1,1206.1 L1135.4,1195.2 L1148.8,1186.7 L1162.1,1181.3 L1175.5,1178.9 L1188.8,1180.1 L1202.2,1184.8 L1215.5,1193.7 L1228.9,1206.2 L1242.3,1222.6 L1255.6,1241.8 L1269.0,1263.2 L1282.3,1286.5 L1295.7,1310.2 L1309.0,1334.8 L1322.4,1360.5 L1335.7,1387.8 L1349.1,1417.4 L1362.5,1449.4 L1375.8,1482.1 L1389.2,1514.5 L1402.5,1545.7 L1415.9,1575.4 L1429.2,1603.9 L1442.6,1631.4 L1455.9,1653.4 L1469.3,1671.0 L1482.6,1684.5 L1496.0,1695.7"/>
<path stroke="#004b0a" d="M173.9,1705.4 L187.2,1662.3 L200.6,1598.7 L213.9,1529.8 L227.3,1447.9 L240.6,1361.7 L254.0,1277.6 L267.3,1204.4 L280.7,1138.6 L294.1,1091.2 L307.4,1069.3 L320.8,1065.8 L334.1,1073.7 L347.5,1088.0 L360.8,1106.9 L374.2,1134.3 L387.5,1156.8 L400.9,1176.3 L414.2,1194.8 L427.6,1211.5 L441.0,1225.7 L454.3,1237.3 L467.7,1247.6 L481.0,1257.8 L494.4,1268.6 L507.7,1279.9 L521.1,1291.6 L534.4,1303.8 L547.8,1316.4 L561.1,1329.7 L574.5,1343.4 L587.9,1357.5 L601.2,1371.5 L614.6,1384.9 L627.9,1397.7 L641.3,1409.9 L654.6,1422.4 L668.0,1435.4 L681.3,1448.4 L694.7,1461.1 L708.1,1473.1 L721.4,1483.9 L734.8,1493.4 L748.1,1501.4 L761.5,1507.5 L774.8,1511.8 L788.2,1514.2 L801.5,1515.3 L814.9,1514.7 L828.2,1512.5 L841.6,1508.4 L855.0,1502.5 L868.3,1494.5 L881.7,1484.8 L895.0,1473.7 L908.4,1461.2 L921.7,1447.9 L935.1,1433.3 L948.4,1417.3 L961.8,1399.8 L975.2,1381.2 L988.5,1361.6 L1001.9,1341.2 L1015.2,1320.2 L1028.6,1298.8 L1041.9,1277.7 L1055.3,1257.8 L1068.6,1239.4 L1082.0,1222.6 L1095.3,1207.7 L1108.7,1194.9 L1122.1,1184.5 L1135.4,1176.5 L1148.8,1171.3 L1162.1,1169.5 L1175.5,1170.6 L1188.8,1175.4 L1202.2,1183.4 L1215.5,1195.4 L1228.9,1211.3 L1242.3,1230.9 L1255.6,1252.6 L1269.0,1275.9 L1282.3,1300.5 L1295.7,1325.2 L1309.0,1350.6 L1322.4,1376.4 L1335.7,1403.2 L1349.1,1431.7 L1362.5,1462.3 L1375.8,1493.7 L1389.2,1524.4 L1402.5,1553.9 L1415.9,1582.1 L1429.2,1609.2 L1442.6,1635.3 L1455.9,1656.0 L1469.3,1672.1 L1482.6,1684.2 L1496.0,1693.5"/>
<path stroke="#7777ff" d="M173.9,1708.6 L187.2,1664.4 L200.6,1601.9 L213.9,1535.1 L227.3,1454.3 L240.6,1372.5 L254.0,1294.9 L267.3,1224.8 L280.7,1161.3 L294.1,1113.9 L307.4,1090.3 L320.8,1081.5 L334.1,1085.9 L347.5,1099.9 L360.8,1117.4 L374.2,1136.7 L387.5,1155.9 L400.9,1173.5 L414.2,1189.8 L427.6,1204.5 L441.0,1217.5 L454.3,1229.2 L467.7,1239.8 L481.0,1250.1 L494.4,1260.2 L507.7,1270.6 L521.1,1281.6 L534.4,1293.4 L547.8,1306.1 L561.1,1319.5 L574.5,1333.7 L587.9,1348.1 L601.2,1362.5 L614.6,1376.7 L627.9,1390.4 L641.3,1403.9 L654.6,1417.2 L668.0,1430.3 L681.3,1443.1 L694.7,1455.4 L708.1,1467.0 L721.4,1477.8 L734.8,1488.3 L748.1,1497.5 L761.5,1505.7 L774.8,1512.4 L788.2,1517.3 L801.5,1520.5 L814.9,1521.4 L828.2,1520.5 L841.6,1517.4 L855.0,1512.7 L868.3,1506.4 L881.7,1498.8 L895.0,1489.9 L908.4,1479.3 L921.7,1467.8 L935.1,1454.8 L948.4,1440.1 L961.8,1424.1 L975.2,1406.6 L988.5,1388.3 L1001.9,1369.1 L1015.2,1349.1 L1028.6,1328.4 L1041.9,1307.3 L1055.3,1286.0 L1068.6,1265.0 L1082.0,1244.9 L1095.3,1226.2 L1108.7,1209.1 L1122.1,1194.1 L1135.4,1181.1 L1148.8,1170.6 L1162.1,1163.5 L1175.5,1159.7 L1188.8,1159.7 L1202.2,1163.1 L1215.5,1170.6 L1228.9,1181.1 L1242.3,1195.0 L1255.6,1211.7 L1269.0,1231.4 L1282.3,1254.0 L1295.7,1278.4 L1309.0,1305.5 L1322.4,1335.1 L1335.7,1366.4 L1349.1,1399.2 L1362.5,1432.7 L1375.8,1466.5 L1389.2,1500.2 L1402.5,1533.3 L1415.9,1565.2 L1429.2,1595.9 L1442.6,1625.5 L1455.9,1649.6 L1469.3,1668.1 L1482.6,1682.1 L1496.0,1693.5"/>
<path stroke="#863123" d="M173.9,1705.4 L187.2,1664.4 L200.6,1604.1 L213.9,1540.5 L227.3,1460.8 L240.6,1383.2 L254.0,1310.0 L267.3,1245.3 L280.7,1193.6 L294.1,1155.9 L307.4,1134.3 L320.8,1125.3 L334.1,1127.1 L347.5,1138.6 L360.8,1154.3 L374.2,1169.9 L387.5,1186.1 L400.9,1199.4 L414.2,1212.3 L427.6,1224.5 L441.0,1235.3 L454.3,1244.9 L467.7,1254.3 L481.0,1264.3 L494.4,1274.6 L507.7,1285.3 L521.1,1296.2 L534.4,1307.3 L547.8,1318.4 L561.1,1330.0 L574.5,1343.3 L587.9,1358.6 L601.2,1374.5 L614.6,1389.3 L627.9,1402.1 L641.3,1413.7 L654.6,1424.7 L668.0,1435.6 L681.3,1446.4 L694.7,1456.8 L708.1,1466.7 L721.4,1475.5 L734.8,1483.5 L748.1,1490.5 L761.5,1496.5 L774.8,1501.6 L788.2,1505.5 L801.5,1508.1 L814.9,1509.5 L828.2,1509.8 L841.6,1509.0 L855.0,1507.0 L868.3,1503.9 L881.7,1499.8 L895.0,1494.8 L908.4,1488.7 L921.7,1481.8 L935.1,1473.1 L948.4,1462.4 L961.8,1450.0 L975.2,1435.9 L988.5,1420.2 L1001.9,1403.2 L1015.2,1385.1 L1028.6,1366.4 L1041.9,1347.3 L1055.3,1328.2 L1068.6,1309.0 L1082.0,1290.0 L1095.3,1271.7 L1108.7,1253.6 L1122.1,1236.5 L1135.4,1220.1 L1148.8,1205.6 L1162.1,1193.9 L1175.5,1184.9 L1188.8,1179.5 L1202.2,1177.5 L1215.5,1179.6 L1228.9,1184.9 L1242.3,1193.6 L1255.6,1205.6 L1269.0,1220.7 L1282.3,1238.2 L1295.7,1257.8 L1309.0,1279.7 L1322.4,1306.1 L1335.7,1335.1 L1349.1,1366.8 L1362.5,1401.9 L1375.8,1440.2 L1389.2,1478.3 L1402.5,1513.9 L1415.9,1548.2 L1429.2,1579.0 L1442.6,1609.1 L1455.9,1635.1 L1469.3,1656.5 L1482.6,1672.5 L1496.0,1685.1"/>
</g>
<path d="M160.5,983.5 L160.5,1737.7 L1496.0,1737.7 M160.5,1737.7 v-13.5 M294.1,1737.7 v-13.5 M427.6,1737.7 v-13.5 M561.1,1737.7 v-13.5 M694.7,1737.7 v-13.5 M828.2,1737.7 v-13.5 M961.8,1737.7 v-13.5 M1095.3,1737.7 v-13.5 M1228.9,1737.7 v-13.5 M1362.5,1737.7 v-13.5 M1496.0,1737.7 v-13.5 M160.5,1737.7 h13.5 M160.5,1630.0 h13.5 M160.5,1522.2 h13.5 M160.5,1414.5 h13.5 M160.5,1306.7 h13.5 M160.5,1199.0 h13.5 M160.5,1091.2 h13.5 M160.5,983.5 h13.5" fill="none" stroke="#262626" stroke-width="1.7" stroke-linecap="square"/>
<g font-size="33" fill="#262626">
<text transform="translate(159.0,1783.8) scale(1,1.120)" text-anchor="middle">0</text>
<text transform="translate(292.6,1783.8) scale(1,1.120)" text-anchor="middle">10</text>
<text transform="translate(426.1,1783.8) scale(1,1.120)" text-anchor="middle">20</text>
<text transform="translate(559.6,1783.8) scale(1,1.120)" text-anchor="middle">30</text>
<text transform="translate(693.2,1783.8) scale(1,1.120)" text-anchor="middle">40</text>
<text transform="translate(826.8,1783.8) scale(1,1.120)" text-anchor="middle">50</text>
<text transform="translate(960.3,1783.8) scale(1,1.120)" text-anchor="middle">60</text>
<text transform="translate(1093.8,1783.8) scale(1,1.120)" text-anchor="middle">70</text>
<text transform="translate(1227.4,1783.8) scale(1,1.120)" text-anchor="middle">80</text>
<text transform="translate(1361.0,1783.8) scale(1,1.120)" text-anchor="middle">90</text>
<text transform="translate(1494.5,1783.8) scale(1,1.120)" text-anchor="middle">100</text>
<text transform="translate(148.1,1751.6) scale(1,1.120)" text-anchor="end">0</text>
<text transform="translate(148.1,1643.9) scale(1,1.120)" text-anchor="end">1</text>
<text transform="translate(148.1,1536.1) scale(1,1.120)" text-anchor="end">2</text>
<text transform="translate(148.1,1428.4) scale(1,1.120)" text-anchor="end">3</text>
<text transform="translate(148.1,1320.6) scale(1,1.120)" text-anchor="end">4</text>
<text transform="translate(148.1,1212.9) scale(1,1.120)" text-anchor="end">5</text>
<text transform="translate(148.1,1105.1) scale(1,1.120)" text-anchor="end">6</text>
<text transform="translate(148.1,997.4) scale(1,1.120)" text-anchor="end">7</text>
</g>
<text transform="translate(826.0,1833.0)" text-anchor="middle" font-size="38.2" fill="#262626">Time (%)</text>
<text transform="translate(113.0,1364.5) rotate(-90)" text-anchor="middle" font-size="37.5" fill="#262626">Standard deviation of force (%BW)</text>
<text transform="translate(3.0,958.5) scale(1,1.050)" font-size="60" fill="#000">B</text>
</g>
</svg>
</body>
</html>
